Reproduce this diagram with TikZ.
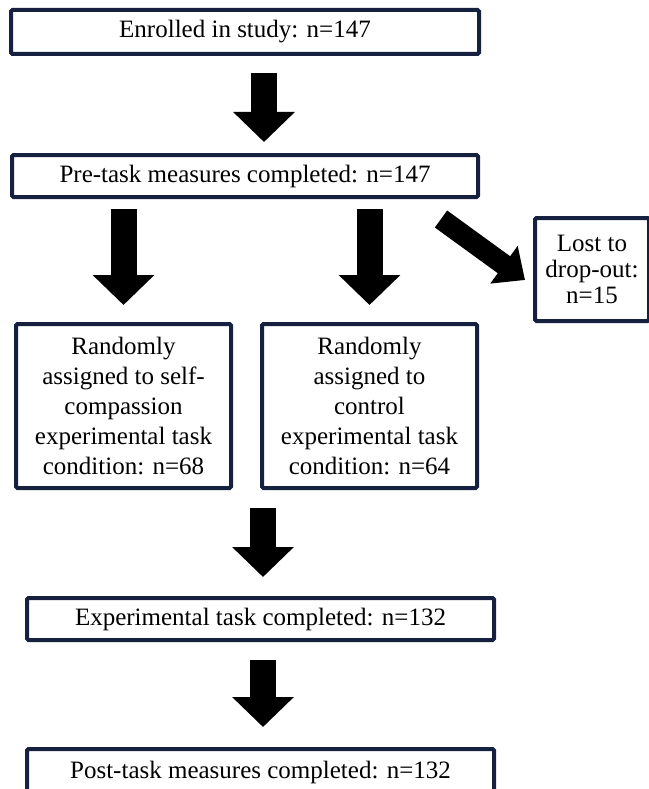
\documentclass[tikz,border=0pt]{standalone}
\usepackage{fontspec}
\setmainfont{Liberation Serif}
\usetikzlibrary{arrows.meta,calc}
\definecolor{boxnavy}{HTML}{16203F}
\tikzset{
    box/.style = {draw = boxnavy, line width = 4pt, rounded corners = 1.5pt, align = center,
        inner sep = 0pt, font = \fontsize{25}{30}\selectfont},
    bigarrow/.style = {line width = 26pt, -{Triangle[length = 30pt, width = 60pt]}},
    sidearrow/.style = {line width = 21pt, -{Triangle[length = 26pt, width = 45pt]}}
}
\begin{document}
\begin{tikzpicture}[x = 1pt, y = -1pt]
            \useasboundingbox (0, 0) rectangle (648, 789);
            \node[box, minimum width = 468pt, minimum height = 44pt] (enrol) at (245, 32) {Enrolled in study: n=147};
            \node[box, minimum width = 466pt, minimum height = 42pt] (pre) at (245, 176) {Pre-task measures completed: n=147};
            \node[box, minimum width = 114pt, minimum height = 103pt, font = \fontsize{25}{26}\selectfont] (lost) at (592, 269.5) {Lost to\\drop-out:\\n=15};
            \node[box, minimum width = 215pt, minimum height = 164pt] (self) at (123.5, 406) {Randomly\\assigned to self-\\compassion\\experimental task\\condition: n=68};
            \node[box, minimum width = 215pt, minimum height = 164pt] (ctrl) at (369.5, 406) {Randomly\\assigned to\\control\\experimental task\\condition: n=64};
            \node[box, minimum width = 467pt, minimum height = 42pt] (task) at (260.5, 619) {Experimental task completed: n=132};
            \node[box, minimum width = 467pt, minimum height = 46pt] (post) at (260.5, 772) {Post-task measures completed: n=132};
            \draw[bigarrow] ($(enrol.south) + (19, 17)$) -- ($(pre.north) + (19, -11)$);
            \draw[bigarrow] ($(self.north |- pre.south) + (0, 10)$) -- ($(self.north) + (0, -17)$);
            \draw[bigarrow] ($(ctrl.north |- pre.south) + (0, 10)$) -- ($(ctrl.north) + (0, -17)$);
            \draw[sidearrow] ($(pre.south east) + (-39, 20)$) -- ($(lost.west) + (-8, 10.5)$);
            \draw[bigarrow] ($(task.north |- ctrl.south) + (2.5, 18)$) -- ($(task.north) + (2.5, -19)$);
            \draw[bigarrow] ($(task.south) + (2.5, 18)$) -- ($(post.north) + (2.5, -20)$);
        \end{tikzpicture}
\end{document}
